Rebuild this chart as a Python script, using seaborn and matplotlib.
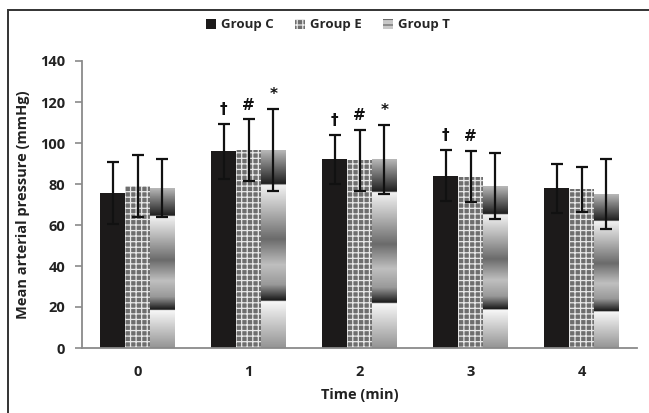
import numpy as np
import pandas as pd
import matplotlib
matplotlib.use("Agg")
import matplotlib.pyplot as plt
import seaborn as sns
from matplotlib.patches import Patch, Rectangle

# ------------------------------------------
# Data
# ------------------------------------------

times = ["0", "1", "2", "3", "4"]
groups = ["Group C", "Group E", "Group T"]

mean_c = [75.5, 96, 92, 84, 78]
mean_e = [79, 96.5, 91.5, 83.5, 77.5]
mean_t = [78, 96.5, 92, 79, 75]

sd_c = [15, 13.5, 12, 12.5, 12]
sd_e = [15, 15, 15, 12.5, 11]
sd_t = [14, 20, 17, 16, 17]

marks_c = ["", "\u2020", "\u2020", "\u2020", ""]
marks_e = ["", "#", "#", "#", ""]
marks_t = ["", "*", "*", "", ""]

df = pd.DataFrame({
    "time": times * 3,
    "group": [g for g in groups for _ in times],
    "mean": mean_c + mean_e + mean_t,
})

# ------------------------------------------
# Style
# ------------------------------------------

sns.set_style("white")
plt.rcParams["font.family"] = ["Open Sans", "DejaVu Sans"]
plt.rcParams["font.weight"] = "bold"
plt.rcParams["hatch.linewidth"] = 0.9

fig = plt.figure(figsize=(6.49, 4.13), dpi=100)
ax = fig.add_axes([82 / 649, 1 - 348 / 413, (637 - 82) / 649, (348 - 61) / 413])

sns.barplot(
    data=df, x="time", y="mean", hue="group",
    palette=["#1c1a1a", "#6e6e6e", "#b0b0b0"],
    width=0.67, errorbar=None, linewidth=0, legend=False, ax=ax
)

# texture for group E
for bar in ax.containers[1]:
    bar.set_hatch("+++")
    bar.set_edgecolor("#e8e8e8")
    bar.set_linewidth(0)

# banded gradient for group T
t_nodes = [0, 0.17, 0.175, 0.3, 0.45, 0.58, 0.68, 0.76, 0.765, 1.0]
t_vals = [0.72, 0.12, 0.95, 0.72, 0.42, 0.75, 0.6, 0.1, 0.97, 0.58]
profile = np.interp(np.linspace(0, 1, 300), t_nodes, t_vals)
for bar in ax.containers[2]:
    x0, w, h = bar.get_x(), bar.get_width(), bar.get_height()
    im = ax.imshow(profile[:, None], extent=[x0, x0 + w, 0, h], cmap="gray",
                   vmin=0, vmax=1, aspect="auto", zorder=bar.get_zorder() + 0.1)
    im.set_clip_path(bar)

# error bars and significance marks
for cont, means, sds, marks in zip(ax.containers,
                                   [mean_c, mean_e, mean_t],
                                   [sd_c, sd_e, sd_t],
                                   [marks_c, marks_e, marks_t]):
    xs = [b.get_x() + b.get_width() / 2 for b in cont]
    ax.errorbar(xs, means, yerr=sds, fmt="none", ecolor="#111111",
                elinewidth=1.6, capsize=4, capthick=1.6, zorder=5)
    for x, m, s, k in zip(xs, means, sds, marks):
        if k:
            ax.text(x, m + s + 7, k, ha="center", va="center",
                    fontsize=11, color="#111111", family=["DejaVu Sans"])

ax.set_xlim(-0.5, 4.5)
ax.set_ylim(0, 140)
ax.set_yticks(range(0, 141, 20))
ax.set_aspect("auto")

sns.despine(ax=ax)
for side in ["left", "bottom"]:
    ax.spines[side].set_color("#8a8a8a")
    ax.spines[side].set_linewidth(1.3)

ax.tick_params(axis="y", length=5, width=1.2, color="#8a8a8a", pad=7,
               labelsize=10.5, labelcolor="#222222", left=True)
ax.tick_params(axis="x", length=0, pad=12, labelsize=10.5, labelcolor="#222222")

ax.set_xlabel("Time (min)", fontsize=10.5, fontweight="bold", color="#222222", labelpad=7)
ax.set_ylabel("Mean arterial pressure (mmHg)", fontsize=10.5, fontweight="bold",
              color="#222222", labelpad=7)

# legend
handles = [
    Patch(facecolor="#1c1a1a", edgecolor="none"),
    Patch(facecolor="#6e6e6e", edgecolor="#e8e8e8", hatch="+++", linewidth=0),
    Patch(facecolor="#c8c8c8", edgecolor="#6a6a6a", hatch="---", linewidth=0),
]
fig.legend(handles, groups, loc="center", bbox_to_anchor=(0.505, 0.94), ncol=3,
           frameon=False, fontsize=9.5, handlelength=0.8, handleheight=0.8,
           handletextpad=0.35, columnspacing=1.6)

# outer chart frame
fig.patches.append(Rectangle((8 / 649, -0.1), 1.1, 1 - 10 / 413 + 0.1,
                             transform=fig.transFigure, fill=False,
                             edgecolor="#333333", linewidth=1.4))

fig.savefig("out.png", dpi=100)
